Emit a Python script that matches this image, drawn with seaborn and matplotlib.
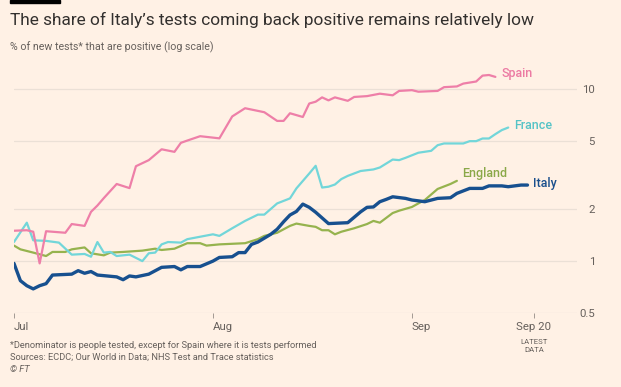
import pandas as pd
import numpy as np
import matplotlib
matplotlib.use("Agg")
import matplotlib.pyplot as plt
import matplotlib.dates as mdates
import seaborn as sns

# days after 1 Jul 2020 and % positive
spain_days = [0, 2, 3, 4, 5, 6, 8, 9, 11, 12, 13, 14, 16, 18, 19, 21, 23, 25, 26, 27, 29, 31, 32,
              34, 36, 39, 41, 42, 43, 45, 46, 47, 48, 49, 50, 52, 53, 55, 57, 59, 60, 62, 63, 66,
              67, 69, 70, 72, 73, 74, 75]
spain_vals = [1.50, 1.51, 1.48, 0.97, 1.49, 1.48, 1.46, 1.64, 1.60, 1.93, 2.10, 2.32, 2.80, 2.65,
              3.55, 3.85, 4.45, 4.30, 4.85, 5.00, 5.30, 5.20, 5.15, 6.90, 7.70, 7.30, 6.50, 6.50,
              7.20, 6.85, 8.20, 8.40, 8.90, 8.55, 8.90, 8.50, 8.95, 9.05, 9.35, 9.15, 9.70, 9.80,
              9.60, 9.70, 10.2, 10.3, 10.7, 11.0, 11.9, 12.0, 11.7]

france_days = [0, 2, 3, 5, 7, 9, 11, 12, 13, 14, 15, 16, 18, 20, 21, 22, 23, 24, 26, 27, 31, 32,
               34, 36, 38, 39, 41, 43, 44, 46, 47, 48, 49, 50, 51, 52, 54, 56, 57, 59, 60, 61, 63,
               65, 66, 67, 70, 71, 72, 73, 74, 75, 76, 77]
france_vals = [1.29, 1.67, 1.32, 1.31, 1.28, 1.09, 1.10, 1.06, 1.29, 1.12, 1.13, 1.07, 1.09, 1.00,
               1.11, 1.12, 1.25, 1.29, 1.28, 1.34, 1.43, 1.40, 1.55, 1.71, 1.86, 1.86, 2.16, 2.31,
               2.64, 3.22, 3.57, 2.67, 2.70, 2.78, 2.99, 3.12, 3.33, 3.40, 3.49, 3.88, 3.85, 3.97,
               4.25, 4.36, 4.70, 4.81, 4.81, 4.96, 4.96, 5.14, 5.14, 5.45, 5.75, 5.95]

england_days = [0, 1, 3, 5, 6, 8, 9, 11, 12, 14, 15, 17, 20, 22, 23, 25, 27, 29, 30, 32, 36, 38,
                39, 41, 43, 44, 46, 47, 48, 49, 50, 51, 53, 55, 56, 57, 59, 60, 62, 63, 64, 66,
                68, 69]
england_vals = [1.23, 1.17, 1.12, 1.07, 1.13, 1.13, 1.17, 1.20, 1.11, 1.08, 1.12, 1.13, 1.15, 1.18,
                1.16, 1.18, 1.27, 1.27, 1.23, 1.25, 1.27, 1.34, 1.40, 1.46, 1.60, 1.65, 1.60, 1.58,
                1.51, 1.51, 1.43, 1.48, 1.55, 1.64, 1.71, 1.67, 1.90, 1.96, 2.06, 2.16, 2.26, 2.62,
                2.80, 2.92]

italy_days = [0, 1, 2, 3, 4, 5, 6, 9, 10, 11, 12, 13, 16, 17, 18, 19, 21, 23, 25, 26, 27, 29, 31,
              32, 34, 35, 36, 37, 38, 40, 41, 42, 43, 44, 45, 46, 47, 49, 52, 54, 55, 56, 57, 58,
              59, 61, 62, 64, 66, 68, 69, 71, 73, 74, 76, 77, 79, 80]
italy_vals = [0.97, 0.77, 0.72, 0.69, 0.72, 0.74, 0.83, 0.84, 0.88, 0.85, 0.87, 0.83, 0.81, 0.78,
              0.82, 0.81, 0.84, 0.92, 0.93, 0.89, 0.93, 0.93, 1.00, 1.05, 1.06, 1.12, 1.12, 1.25,
              1.29, 1.43, 1.53, 1.69, 1.85, 1.94, 2.14, 2.05, 1.92, 1.65, 1.67, 1.93, 2.05, 2.06,
              2.21, 2.28, 2.36, 2.31, 2.26, 2.21, 2.31, 2.33, 2.47, 2.64, 2.64, 2.73, 2.73, 2.70,
              2.76, 2.76]

countries = ["Spain", "France", "England", "Italy"]
colors = {"Spain": "#ee7fa8", "France": "#72d6d9", "England": "#96b34e", "Italy": "#17508f"}
label_colors = {"Spain": "#ec7aa3", "France": "#55c3c6", "England": "#8aa848", "Italy": "#1a4f8c"}
widths = {"Spain": 1.6, "France": 1.6, "England": 1.6, "Italy": 2.4}
# label anchors (day, value)
label_pos = {"Spain": (76.0, 12.3), "France": (77.9, 6.15), "England": (69.8, 3.2), "Italy": (80.8, 2.8)}

start = pd.Timestamp("2020-07-01")
frames = []
for name, d, v in [("Spain", spain_days, spain_vals), ("France", france_days, france_vals),
                   ("England", england_days, england_vals), ("Italy", italy_days, italy_vals)]:
    frames.append(pd.DataFrame({"date": start + pd.to_timedelta(d, unit="D"),
                                "value": v, "country": name}))
df = pd.concat(frames, ignore_index=True)

bg = "#fff1e5"
sns.set_style("white")
plt.rcParams["font.family"] = ["Roboto", "DejaVu Sans"]

fig = plt.figure(figsize=(6.21, 3.87), dpi=100, facecolor=bg)
ax = fig.add_axes([0.0225, 0.1912, 0.9065, 0.6305], facecolor=bg)

for c in ["England", "France", "Spain", "Italy"]:
    sns.lineplot(data=df[df.country == c], x="date", y="value", color=colors[c],
                 linewidth=widths[c], ax=ax, legend=False)

ax.set_yscale("log")
ax.set_ylim(0.5, 13)
ax.set_xlim(start, start + pd.Timedelta(days=87.7))

yt = [0.5, 1, 2, 5, 10]
ax.set_yticks(yt)
ax.set_yticklabels(["0.5", "1", "2", "5", "10"])
ax.yaxis.set_minor_locator(matplotlib.ticker.NullLocator())
ax.yaxis.tick_right()
ax.tick_params(axis="y", length=0, pad=13, labelsize=8.2, labelcolor="#66605c")
for lab in ax.get_yticklabels():
    lab.set_horizontalalignment("right")
ax.grid(axis="y", color="#ebe0d6", linewidth=0.9)
ax.grid(axis="x", visible=False)
for s in ax.spines.values():
    s.set_visible(False)

xt = [start, pd.Timestamp("2020-08-01"), pd.Timestamp("2020-09-01"), pd.Timestamp("2020-09-20")]
ax.set_xticks(xt)
ax.set_xticklabels(["Jul", "Aug", "Sep", "Sep 20"])
ax.xaxis.set_minor_locator(matplotlib.ticker.NullLocator())
ax.tick_params(axis="x", length=3.5, width=0.7, color="#a39a93", pad=3,
               labelsize=8.2, labelcolor="#66605c", bottom=True)
for lab in ax.get_xticklabels()[:3]:
    lab.set_horizontalalignment("left")
ax.set_xlabel("")
ax.set_ylabel("")
ax.annotate("LATEST\nDATA", xy=(mdates.date2num(xt[3]), 0), xycoords=("data", "axes fraction"),
            xytext=(0, -18.5), textcoords="offset points", ha="center", va="top",
            fontsize=5.6, color="#66605c", linespacing=1.45)

for c in countries:
    dx, v = label_pos[c]
    ax.text(start + pd.Timedelta(days=dx), v, c, color=label_colors[c], fontsize=9,
            fontweight="medium", va="center", ha="left")

# FT style black bar, title, subtitle and notes
fig.patches.append(matplotlib.patches.Rectangle((10 / 621, 1 - 2.5 / 387), 50 / 621, 2.5 / 387,
                                                transform=fig.transFigure, color="#000000"))
fig.text(10 / 621, 1 - 20 / 387, "The share of Italy\u2019s tests coming back positive remains relatively low",
         fontsize=12.4, color="#33302e", va="center", ha="left")
fig.text(10 / 621, 1 - 47 / 387, "% of new tests* that are positive (log scale)",
         fontsize=7.7, color="#66605c", va="center", ha="left")
fig.text(10 / 621, 1 - 345 / 387, "*Denominator is people tested, except for Spain where it is tests performed",
         fontsize=6.7, color="#66605c", va="center", ha="left")
fig.text(10 / 621, 1 - 357 / 387, "Sources: ECDC; Our World in Data; NHS Test and Trace statistics",
         fontsize=6.7, color="#66605c", va="center", ha="left")
fig.text(10 / 621, 1 - 369 / 387, "\u00a9 FT", fontsize=6.7, color="#66605c", va="center",
         ha="left", style="italic")

fig.savefig("out.png", dpi=100, facecolor=bg)
